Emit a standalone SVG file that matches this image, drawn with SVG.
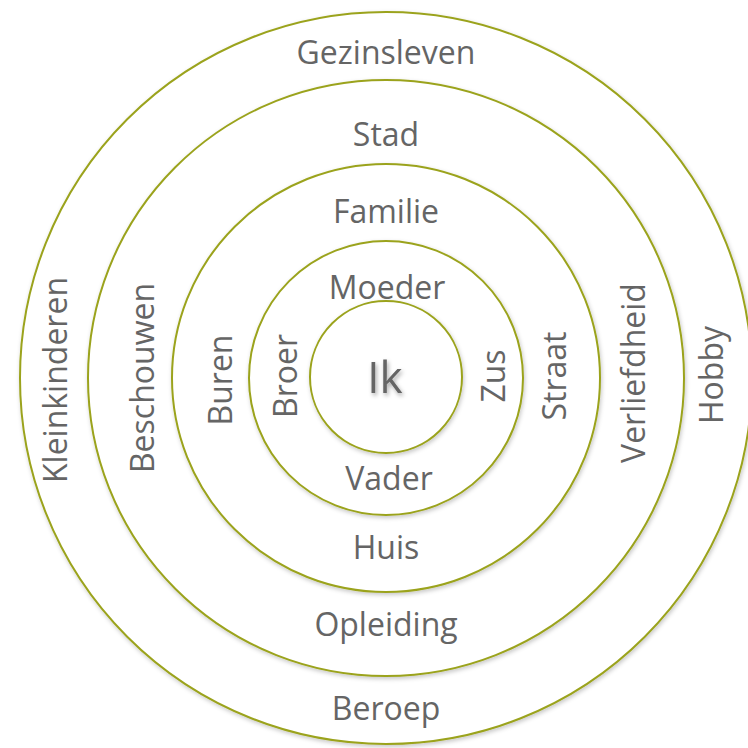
<svg xmlns="http://www.w3.org/2000/svg" width="748" height="748" viewBox="0 0 748 748">
  <defs>
    <filter id="ringShadow" x="-10%" y="-10%" width="120%" height="120%">
      <feDropShadow dx="1" dy="2" stdDeviation="2" flood-color="#000" flood-opacity="0.22"/>
    </filter>
    <filter id="textShadow" x="-30%" y="-30%" width="160%" height="160%">
      <feDropShadow dx="1.5" dy="2.5" stdDeviation="2" flood-color="#000" flood-opacity="0.35"/>
    </filter>
  </defs>
  <style>
    .ring { fill: #ffffff; stroke: #9ba31d; stroke-width: 2; filter: url(#ringShadow); }
    .lbl { font-family: "Open Sans", "Noto Sans", "DejaVu Sans", sans-serif; font-size: 32px; fill: #656565; text-anchor: middle; }
    .core { font-size: 44px; filter: url(#textShadow); }
  </style>

  <rect width="748" height="748" fill="#ffffff"/>

  <!-- outermost ring -->
  <g id="ring-gezinsleven">
    <circle class="ring" cx="386" cy="378" r="366"/>
    <text class="lbl" x="386" y="64">Gezinsleven</text>
    <text class="lbl" x="386" y="720">Beroep</text>
    <text class="lbl" transform="translate(67,380) rotate(-90)">Kleinkinderen</text>
    <text class="lbl" transform="translate(723,375) rotate(-90)">Hobby</text>
  </g>

  <!-- second ring -->
  <g id="ring-stad">
    <circle class="ring" cx="386" cy="378" r="298"/>
    <text class="lbl" x="386" y="146">Stad</text>
    <text class="lbl" x="386" y="636">Opleiding</text>
    <text class="lbl" transform="translate(154,378) rotate(-90)">Beschouwen</text>
    <text class="lbl" transform="translate(645,373) rotate(-90)">Verliefdheid</text>
  </g>

  <!-- third ring -->
  <g id="ring-familie">
    <circle class="ring" cx="386" cy="378" r="214"/>
    <text class="lbl" x="386" y="223">Familie</text>
    <text class="lbl" x="386" y="559">Huis</text>
    <text class="lbl" transform="translate(232,380) rotate(-90)">Buren</text>
    <text class="lbl" transform="translate(566,376) rotate(-90)">Straat</text>
  </g>

  <!-- fourth ring -->
  <g id="ring-moeder">
    <circle class="ring" cx="386" cy="378" r="137"/>
    <text class="lbl" x="387" y="299">Moeder</text>
    <text class="lbl" x="389" y="490">Vader</text>
    <text class="lbl" transform="translate(297,376) rotate(-90)">Broer</text>
    <text class="lbl" transform="translate(505,376) rotate(-90)">Zus</text>
  </g>

  <!-- centre -->
  <g id="ik">
    <circle class="ring" cx="386" cy="377" r="76"/>
    <text class="lbl core" x="385" y="393">Ik</text>
  </g>
</svg>
